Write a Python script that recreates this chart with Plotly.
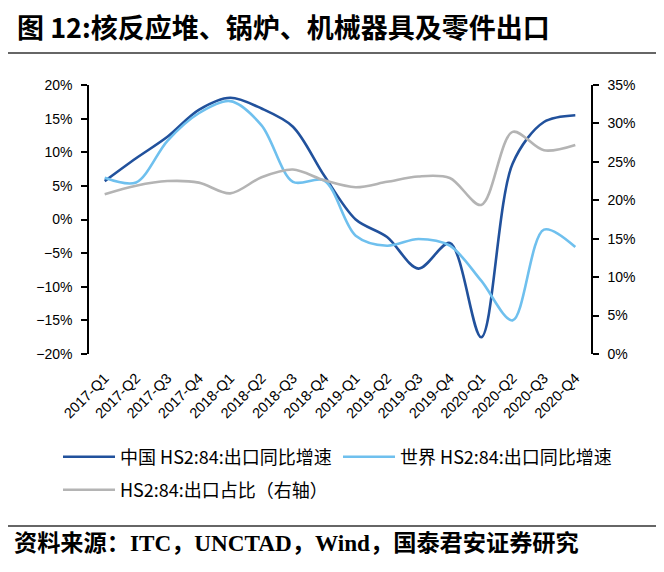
import plotly.graph_objects as go

quarters = ["2017-Q1", "2017-Q2", "2017-Q3", "2017-Q4",
            "2018-Q1", "2018-Q2", "2018-Q3", "2018-Q4",
            "2019-Q1", "2019-Q2", "2019-Q3", "2019-Q4",
            "2020-Q1", "2020-Q2", "2020-Q3", "2020-Q4"]

china_growth = [5.7, 9.1, 12.3, 16.3, 18.1, 16.5, 13.8, 6.5,
                0.0, -2.6, -7.3, -3.5, -17.5, 8.3, 14.5, 15.5]
world_growth = [6.2, 5.5, 11.7, 15.8, 17.6, 14.0, 5.6, 5.8,
                -2.4, -3.9, -2.9, -3.9, -9.1, -15.0, -1.5, -4.1]
share_right = [20.8, 21.9, 22.5, 22.3, 20.9, 23.0, 24.0, 22.6,
               21.7, 22.4, 23.1, 22.9, 19.4, 28.9, 26.5, 27.2]

names = ["中国 HS2:84:出口同比增速", "世界 HS2:84:出口同比增速", "HS2:84:出口占比（右轴）"]
colors = ["#21519C", "#6FC0EE", "#B4B4B4"]

left_ticks = [-20, -15, -10, -5, 0, 5, 10, 15, 20]
right_ticks = [0, 5, 10, 15, 20, 25, 30, 35]

def pct_labels(vals):
    return [(f"{v}%").replace("-", "\u2212") for v in vals]

xs = list(range(len(quarters)))
xrange_ = [-0.5, len(quarters) - 0.5]

fig = go.Figure()
fig.add_trace(go.Scatter(x=xs, y=china_growth, name=names[0], mode="lines",
                         line=dict(color=colors[0], width=2.6, shape="spline", smoothing=0.9),
                         legend="legend"))
fig.add_trace(go.Scatter(x=xs, y=world_growth, name=names[1], mode="lines",
                         line=dict(color=colors[1], width=2.6, shape="spline", smoothing=0.9),
                         legend="legend2"))
fig.add_trace(go.Scatter(x=xs, y=share_right, name=names[2], mode="lines", yaxis="y2",
                         line=dict(color=colors[2], width=2.6, shape="spline", smoothing=0.9),
                         legend="legend3"))

# page body has an 8px margin: work in figure coordinates = reference - 8
OFF = 8
W, H = 664, 572
L, R, T, B = 89 - OFF, 591 - OFF, 85 - OFF, 354 - OFF
pw, ph = R - L, B - T

def px(x):
    return (x - OFF - L) / pw

def py(y):
    return (B - (y - OFF)) / ph

tickfont = dict(family="Liberation Sans, Arial", size=14, color="black")
xtickfont = dict(family="Liberation Sans, Arial", size=14.5, color="black")
legfont = dict(family="Noto Sans CJK SC", size=18, color="black")

axis_common = dict(showgrid=False, zeroline=False, showline=True, linecolor="black",
                   linewidth=1.5, ticks="outside", ticklen=6, tickwidth=1.5,
                   tickcolor="black", tickfont=tickfont)

fig.update_layout(
    width=W, height=H,
    margin=dict(l=L, r=W - R, t=T, b=H - B, autoexpand=False),
    paper_bgcolor="white", plot_bgcolor="white",
    title=dict(text="<b>图 12:核反应堆、锅炉、机械器具及零件出口</b>",
               xref="container", yref="container", x=(17 - OFF) / W, xanchor="left",
               y=1 - (29 - OFF) / H, yanchor="middle",
               font=dict(family="Noto Sans CJK SC", size=27, color="black")),
    xaxis=dict(range=xrange_, tickvals=xs, ticktext=quarters,
               tickangle=-45, showline=False, ticks="", showgrid=False, zeroline=False,
               tickfont=xtickfont, ticklabelstandoff=12),
    xaxis2=dict(overlaying="x", anchor="free", position=0.5, range=xrange_,
                showline=True, linecolor="black", linewidth=1.5,
                ticks="outside", ticklen=5, tickwidth=1.5, tickcolor="black",
                tickvals=[i + 0.5 for i in xs[:-1]], showticklabels=False,
                showgrid=False, zeroline=False),
    yaxis=dict(range=[-20, 20], tickvals=left_ticks, ticktext=pct_labels(left_ticks),
               ticklabelstandoff=6, **axis_common),
    yaxis2=dict(range=[0, 35], tickvals=right_ticks, ticktext=pct_labels(right_ticks),
                overlaying="y", side="right", ticklabelstandoff=6, **axis_common),
    legend=dict(xref="container", yref="container", x=(58 - OFF) / W, y=1 - (457 - OFF) / H,
                xanchor="left", yanchor="middle", font=legfont, itemwidth=52,
                bgcolor="rgba(0,0,0,0)", borderwidth=0),
    legend2=dict(xref="container", yref="container", x=(338 - OFF) / W, y=1 - (457 - OFF) / H,
                 xanchor="left", yanchor="middle", font=legfont, itemwidth=52,
                 bgcolor="rgba(0,0,0,0)", borderwidth=0),
    legend3=dict(xref="container", yref="container", x=(58 - OFF) / W, y=1 - (490 - OFF) / H,
                 xanchor="left", yanchor="middle", font=legfont, itemwidth=52,
                 bgcolor="rgba(0,0,0,0)", borderwidth=0),
    showlegend=True,
)

# horizontal rules
fig.add_shape(type="line", xref="paper", yref="paper", x0=px(0), x1=px(672),
              y0=py(53), y1=py(53), line=dict(color="#333333", width=1.5))
fig.add_shape(type="line", xref="paper", yref="paper", x0=px(3), x1=px(672),
              y0=py(526), y1=py(526), line=dict(color="#333333", width=1.5))

fig.add_annotation(xref="paper", yref="paper", x=px(12), y=py(543),
                   xanchor="left", yanchor="middle", showarrow=False,
                   text="<b>资料来源：ITC，UNCTAD，Wind，国泰君安证券研究</b>",
                   font=dict(family="Liberation Serif, Noto Sans CJK SC", size=23.2, color="black"))

fig.write_html("out.html")
